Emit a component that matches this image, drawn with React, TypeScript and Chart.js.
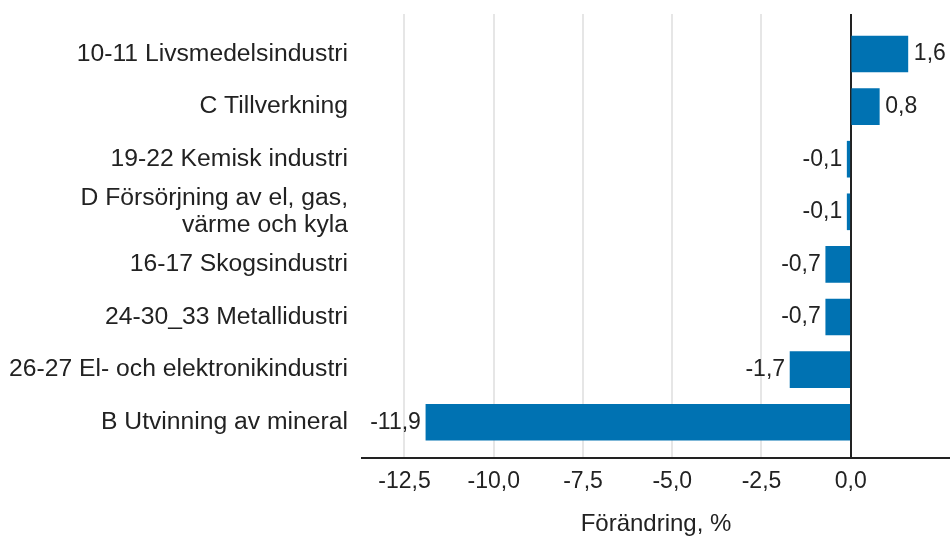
import React, { useEffect, useRef } from "react";
import { Chart, registerables } from "chart.js";

Chart.register(...registerables);

const categories: (string | string[])[] = [
  "10-11 Livsmedelsindustri",
  "C Tillverkning",
  "19-22 Kemisk industri",
  ["D Försörjning av el, gas,", "värme och kyla"],
  "16-17 Skogsindustri",
  "24-30_33 Metallidustri",
  "26-27 El- och elektronikindustri",
  "B Utvinning av mineral",
];
const values: number[] = [1.6, 0.8, -0.1, -0.1, -0.7, -0.7, -1.7, -11.9];
const tickValues: number[] = [-12.5, -10, -7.5, -5, -2.5, 0];
const axisTitle = "Förändring, %";

const fmt = (v: number, d: number) => v.toFixed(d).replace(".", ",");

const FONT = "'Liberation Sans', Arial, sans-serif";
const TEXT = "#222";

const labelPlugin = {
  id: "barLabels",
  afterDatasetsDraw(chart: any) {
    const ctx = chart.ctx;
    const meta = chart.getDatasetMeta(0);
    ctx.save();
    ctx.font = `23px ${FONT}`;
    ctx.fillStyle = TEXT;
    ctx.textBaseline = "middle";
    meta.data.forEach((bar: any, i: number) => {
      const v = values[i];
      const t = fmt(v, 1);
      if (v >= 0) {
        ctx.textAlign = "left";
        ctx.fillText(t, bar.x + 6, bar.y);
      } else {
        ctx.textAlign = "right";
        ctx.fillText(t, bar.x - 5, bar.y);
      }
    });
    ctx.restore();
  },
};

export default function App() {
  const ref = useRef<HTMLCanvasElement | null>(null);
  useEffect(() => {
    if (!ref.current) return;
    const chart = new Chart(ref.current, {
      type: "bar",
      data: {
        datasets: [
          {
            data: values.map((v, i) => ({ x: v, y: i })),
            backgroundColor: "#0072B2",
            barThickness: 36,
          },
        ],
      },
      options: {
        indexAxis: "y",
        animation: false,
        responsive: false,
        maintainAspectRatio: false,
        layout: { padding: { top: 0, right: 0, left: 0, bottom: 0 } },
        plugins: { legend: { display: false }, tooltip: { enabled: false } },
        scales: {
          x: {
            type: "linear",
            min: -13.69,
            max: 2.78,
            afterBuildTicks: (scale: any) => {
              scale.ticks = tickValues.map((v) => ({ value: v }));
            },
            afterFit: (scale: any) => {
              scale.height = 78;
            },
            grid: {
              color: (c: any) => (c.tick && c.tick.value === 0 ? "#222" : "#e6e6e6"),
              lineWidth: 2,
              drawTicks: false,
            },
            border: { display: true, color: "#222", width: 2 },
            ticks: {
              padding: 10,
              color: TEXT,
              font: { family: FONT, size: 23 },
              callback: (v: any) => fmt(Number(v), 1),
            },
            title: {
              display: true,
              text: axisTitle,
              color: TEXT,
              font: { family: FONT, size: 24, lineHeight: 0.95 },
              padding: { top: 8, bottom: 0 },
            },
          },
          y: {
            type: "linear",
            reverse: true,
            offset: false,
            min: -0.76,
            max: 7.68,
            afterBuildTicks: (scale: any) => {
              scale.ticks = categories.map((_, i) => ({ value: i }));
            },
            afterFit: (scale: any) => {
              scale.width = 362;
              scale.paddingTop = 14;
              scale.paddingBottom = 0;
            },
            grid: { display: false, drawTicks: false },
            border: { display: false },
            ticks: {
              autoSkip: false,
              padding: 14,
              color: TEXT,
              font: { family: FONT, size: 24.7, lineHeight: 1.12 },
              callback: (v: any) => categories[Number(v)],
            },
          },
        },
      },
      plugins: [labelPlugin],
    });
    return () => chart.destroy();
  }, []);
  return (
    <div style={{ position: "fixed", left: 0, top: 0, width: 950, height: 536, background: "#fff" }}>
      <canvas ref={ref} width={950} height={536} style={{ width: 950, height: 536 }} />
    </div>
  );
}
